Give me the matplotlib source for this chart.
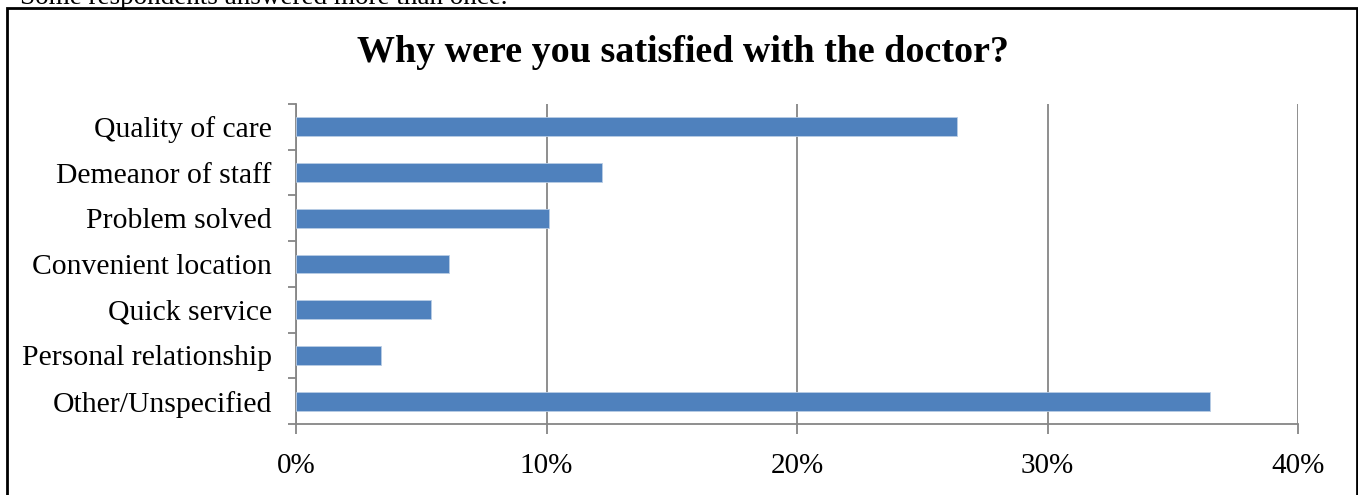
import matplotlib
matplotlib.use("Agg")
import matplotlib.pyplot as plt
from matplotlib.patches import Rectangle
from matplotlib.ticker import FuncFormatter

categories = ["Quality of care", "Demeanor of staff", "Problem solved",
              "Convenient location", "Quick service", "Personal relationship",
              "Other/Unspecified"]
values = [26.4, 12.2, 10.1, 6.1, 5.4, 3.4, 36.5]
x_ticks = [0, 10, 20, 30, 40]
title = "Why were you satisfied with the doctor?"
note = "Some respondents answered more than once."

plt.rcParams['font.family'] = ['Liberation Serif', 'DejaVu Serif']

W, H = 1358, 495
fig = plt.figure(figsize=(W / 100, H / 100), dpi=100)

# outer frame
fig.patches.append(Rectangle((7 / W, -0.1), (1356.5 - 7) / W, 1.1 - 8 / H,
                             transform=fig.transFigure, fill=False,
                             edgecolor='black', linewidth=2, zorder=0))
fig.text(20 / W, 1 - 3.5 / H, note, fontsize=19.5, va='baseline', ha='left')

ax = fig.add_axes([296 / W, 1 - 424 / H, (1298 - 296) / W, (424 - 104) / H])
pos = list(range(len(categories)))
ax.barh(pos, values, height=0.41, color='#4F81BD', edgecolor='#B9CDE5',
        linewidth=0.6, zorder=3)
ax.set_ylim(len(categories) - 0.5, -0.5)
ax.set_xlim(0, 40)
ax.set_xticks(x_ticks)
ax.xaxis.set_major_formatter(FuncFormatter(lambda v, p: f"{v:.0f}%"))
ax.set_yticks(pos)
ax.set_yticklabels(categories)
ax.set_yticks([i - 0.5 for i in range(len(categories) + 1)], minor=True)
ax.tick_params(axis='y', which='major', length=0, pad=17.5, labelsize=21.3)
ax.tick_params(axis='y', which='minor', length=6, width=1.3, color='#868686')
ax.tick_params(axis='x', which='major', length=7, width=1.3, color='#868686',
               pad=14, labelsize=21)
ax.grid(axis='x', color='#868686', linewidth=1.3, zorder=0)
for s in ['top', 'right']:
    ax.spines[s].set_visible(False)
for s in ['left', 'bottom']:
    ax.spines[s].set_color('#868686')
    ax.spines[s].set_linewidth(1.3)

fig.text(683 / W, 1 - 53 / H, title, fontsize=27.4,
         fontweight='bold', ha='center', va='center')

fig.savefig("out.png", dpi=100)
